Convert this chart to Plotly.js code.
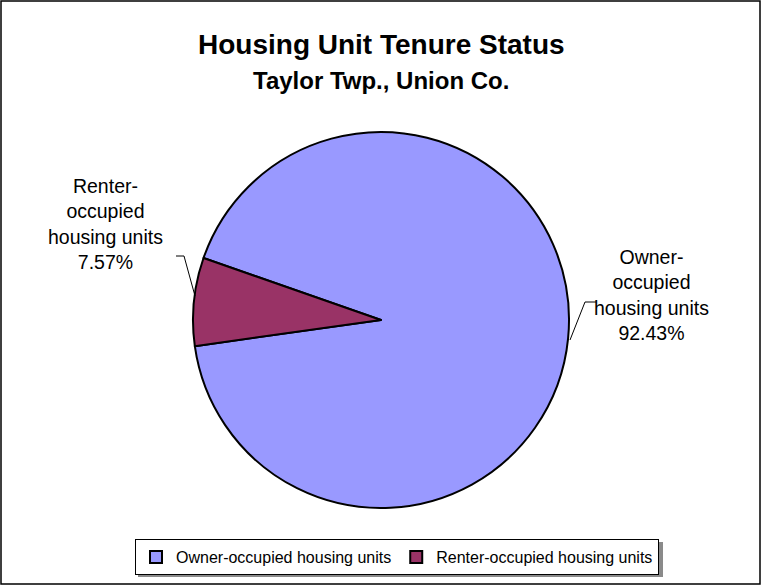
<!DOCTYPE html>
<html>
<head>
<meta charset="utf-8">
<script src="https://cdn.plot.ly/plotly-3.0.1.min.js"></script>
<style>
html,body{margin:0;padding:0;background:#fff;}
#chart{width:762px;height:586px;}
</style>
</head>
<body>
<div id="chart"></div>
<script>
const categories = ["Owner-occupied housing units", "Renter-occupied housing units"];
const shares = [92.43, 7.57];
const sliceColors = ["#9999FF", "#993366"];
const labelTexts = ["Owner-<br>occupied<br>housing units<br>92.43%", "Renter-<br>occupied<br>housing units<br>7.57%"];
const titleLine1 = "Housing Unit Tenure Status";
const titleLine2 = "Taylor Twp., Union Co.";

const W = 762, H = 586;
const px = x => x / W;
const py = y => 1 - y / H;

const trace = {
  type: "pie",
  labels: categories,
  values: shares,
  sort: false,
  direction: "clockwise",
  rotation: -70.75,
  textinfo: "none",
  hoverinfo: "label+percent",
  marker: { colors: sliceColors, line: { color: "#000000", width: 2 } },
  domain: { x: [px(193), px(569)], y: [py(508), py(132)] }
};

const font = "Liberation Sans, Arial, sans-serif";

const layout = {
  width: W, height: H,
  margin: { l: 0, r: 0, t: 0, b: 0 },
  paper_bgcolor: "#ffffff",
  font: { family: font, color: "#000000" },
  showlegend: true,
  legend: {
    orientation: "h",
    x: px(397), xanchor: "center",
    y: py(539), yanchor: "top",
    bordercolor: "#000000", borderwidth: 1,
    bgcolor: "#ffffff",
    font: { family: font, size: 16, color: "#000000" },
    itemwidth: 30,
    tracegroupgap: 0
  },
  annotations: [
    { text: "<b>" + titleLine1 + "</b>", x: 0.5, y: py(44), xref: "paper", yref: "paper",
      showarrow: false, font: { family: font, size: 28 }, xanchor: "center", yanchor: "middle" },
    { text: "<b>" + titleLine2 + "</b>", x: 0.5, y: py(81), xref: "paper", yref: "paper",
      showarrow: false, font: { family: font, size: 24 }, xanchor: "center", yanchor: "middle" },
    { text: labelTexts[0], x: px(651), y: py(295), xref: "paper", yref: "paper",
      showarrow: false, font: { family: font, size: 19.5 }, align: "center", xanchor: "center", yanchor: "middle" },
    { text: labelTexts[1], x: px(105), y: py(224), xref: "paper", yref: "paper",
      showarrow: false, font: { family: font, size: 19.5 }, align: "center", xanchor: "center", yanchor: "middle" }
  ],
  shapes: [
    { type: "rect", xref: "paper", yref: "paper", x0: px(1), x1: px(760), y0: py(584), y1: py(1),
      line: { color: "#000000", width: 1.5 }, layer: "below" },
    { type: "rect", xref: "paper", yref: "paper", x0: px(138), x1: px(663), y0: py(577), y1: py(542),
      line: { width: 0 }, fillcolor: "#8a8a8a", layer: "below" },
    { type: "path", xref: "paper", yref: "paper",
      path: `M ${px(176)} ${py(256)} L ${px(184)} ${py(256)} L ${px(195)} ${py(296)}`,
      line: { color: "#000000", width: 1 } },
    { type: "path", xref: "paper", yref: "paper",
      path: `M ${px(596)} ${py(302)} L ${px(585)} ${py(302)} L ${px(570)} ${py(340)}`,
      line: { color: "#000000", width: 1 } }
  ]
};

Plotly.newPlot("chart", [trace], layout, { staticPlot: true, displayModeBar: false });
</script>
</body>
</html>
